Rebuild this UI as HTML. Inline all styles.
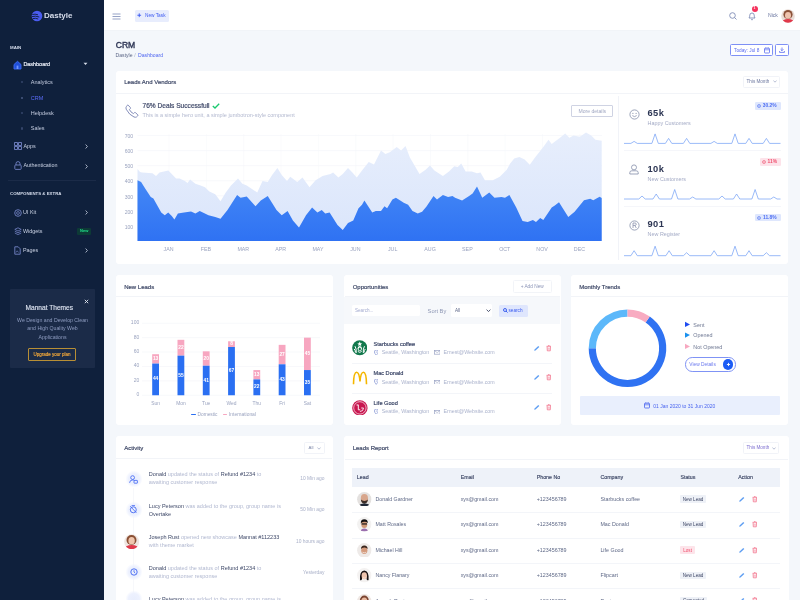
<!DOCTYPE html><html><head><meta charset="utf-8"><style>
html,body{margin:0;padding:0;width:800px;height:600px;overflow:hidden;background:#f4f7fb;font-family:"Liberation Sans", sans-serif;}
.t{position:absolute;white-space:nowrap;}
.r{position:absolute;}
#wrap{position:absolute;left:0;top:0;width:800px;height:600px;overflow:hidden;will-change:transform;}
</style></head><body><div id="wrap">
<div class="r" style="left:0.00px;top:0.00px;width:104.00px;height:600.00px;background:#0f203c;border-radius:0px;"></div>
<svg class="r" style="left:31px;top:10px;" width="12" height="12" viewBox="0 0 12 12"><circle cx="6" cy="6" r="5.3" fill="#4a5cf0"/><path d="M1.2 4.6 Q4 3.6 7 4.8 M1 6.6 Q4.5 5.6 8.3 7 M1.8 8.6 Q4.5 7.8 7.2 9" stroke="#0e1d39" stroke-width="0.9" fill="none"/></svg>
<div class="t" style="left:44.00px;top:9.60px;width:600px;height:12.80px;line-height:12.80px;font-size:8.0px;color:#d8deec;font-weight:bold;text-align:left;">Dastyle</div>
<div class="t" style="left:10.00px;top:43.88px;width:600px;height:7.04px;line-height:7.04px;font-size:4.4px;color:#d5dcec;font-weight:bold;text-align:left;">MAIN</div>
<svg class="r" style="left:13px;top:60px;" width="9" height="10" viewBox="0 0 9 10"><path d="M1 4.5 L4.5 1.3 L8 4.5 V9 H1 Z" fill="#1f4fd8" stroke="#3d6cf5" stroke-width="0.9"/><rect x="3.6" y="5.6" width="1.8" height="3.4" fill="#6f95ff"/></svg>
<div class="t" style="left:23.40px;top:60.34px;width:600px;height:8.72px;line-height:8.72px;font-size:5.45px;color:#e9edf7;font-weight:normal;text-align:left;-webkit-text-stroke:0.2px #e9edf7;">Dashboard</div>
<svg class="r" style="left:83px;top:62px;" width="5" height="4" viewBox="0 0 5 4"><path d="M0.5 0.8 L2.5 3 L4.5 0.8 Z" fill="#d8deeb"/></svg>
<div class="r" style="left:21.00px;top:81.30px;width:2.20px;height:2.20px;background:#34446a;border-radius:1.1px;"></div>
<div class="t" style="left:30.80px;top:78.30px;width:600px;height:8.80px;line-height:8.80px;font-size:5.5px;color:#c3cbdf;font-weight:normal;text-align:left;">Analytics</div>
<div class="r" style="left:21.00px;top:96.60px;width:2.20px;height:2.20px;background:#4a5a82;border-radius:1.1px;"></div>
<div class="t" style="left:30.80px;top:93.60px;width:600px;height:8.80px;line-height:8.80px;font-size:5.5px;color:#5a6cf8;font-weight:normal;text-align:left;">CRM</div>
<div class="r" style="left:21.00px;top:111.80px;width:2.20px;height:2.20px;background:#34446a;border-radius:1.1px;"></div>
<div class="t" style="left:30.80px;top:108.80px;width:600px;height:8.80px;line-height:8.80px;font-size:5.5px;color:#c3cbdf;font-weight:normal;text-align:left;">Helpdesk</div>
<div class="r" style="left:21.00px;top:127.40px;width:2.20px;height:2.20px;background:#34446a;border-radius:1.1px;"></div>
<div class="t" style="left:30.80px;top:124.40px;width:600px;height:8.80px;line-height:8.80px;font-size:5.5px;color:#c3cbdf;font-weight:normal;text-align:left;">Sales</div>
<svg class="r" style="left:13.5px;top:141.5px;" width="8" height="9" viewBox="0 0 8 9"><rect x="0.6" y="0.6" width="2.8" height="2.8" fill="none" stroke="#7f8fd6" stroke-width="0.8"/><rect x="4.6" y="0.6" width="2.8" height="2.8" fill="none" stroke="#7f8fd6" stroke-width="0.8"/><rect x="0.6" y="4.6" width="2.8" height="2.8" fill="none" stroke="#7f8fd6" stroke-width="0.8"/><rect x="4.6" y="4.6" width="2.8" height="2.8" fill="none" stroke="#7f8fd6" stroke-width="0.8"/></svg>
<div class="t" style="left:23.40px;top:141.98px;width:600px;height:8.64px;line-height:8.64px;font-size:5.4px;color:#c8d0e2;font-weight:normal;text-align:left;">Apps</div>
<svg class="r" style="left:84.5px;top:144px;" width="3" height="5" viewBox="0 0 3 5"><path d="M0.6 0.5 L2.4 2.5 L0.6 4.5" stroke="#c8d0e2" stroke-width="0.8" fill="none"/></svg>
<svg class="r" style="left:13.5px;top:161px;" width="8" height="9" viewBox="0 0 8 9"><path d="M2 4 V2.6 A2 2 0 0 1 6 2.6 V4" stroke="#7f8fd6" stroke-width="0.8" fill="none"/><rect x="0.8" y="4" width="6.4" height="4.4" rx="0.8" fill="none" stroke="#7f8fd6" stroke-width="0.8"/></svg>
<div class="t" style="left:23.40px;top:161.48px;width:600px;height:8.64px;line-height:8.64px;font-size:5.4px;color:#c8d0e2;font-weight:normal;text-align:left;">Authentication</div>
<svg class="r" style="left:84.5px;top:163.5px;" width="3" height="5" viewBox="0 0 3 5"><path d="M0.6 0.5 L2.4 2.5 L0.6 4.5" stroke="#c8d0e2" stroke-width="0.8" fill="none"/></svg>
<div class="r" style="left:8.00px;top:180.20px;width:88.00px;height:0.50px;background:#1b2b48;border-radius:0px;"></div>
<div class="t" style="left:10.00px;top:190.92px;width:600px;height:6.96px;line-height:6.96px;font-size:4.35px;color:#d5dcec;font-weight:bold;text-align:left;">COMPONENTS &amp; EXTRA</div>
<svg class="r" style="left:13.5px;top:208.5px;" width="8" height="8" viewBox="0 0 8 8"><circle cx="4" cy="4" r="3.3" fill="none" stroke="#7f8fd6" stroke-width="0.8"/><circle cx="4" cy="4" r="1.4" fill="none" stroke="#7f8fd6" stroke-width="0.7"/></svg>
<div class="t" style="left:23.00px;top:208.28px;width:600px;height:8.64px;line-height:8.64px;font-size:5.4px;color:#c8d0e2;font-weight:normal;text-align:left;">UI Kit</div>
<svg class="r" style="left:84.5px;top:210.3px;" width="3" height="5" viewBox="0 0 3 5"><path d="M0.6 0.5 L2.4 2.5 L0.6 4.5" stroke="#c8d0e2" stroke-width="0.8" fill="none"/></svg>
<svg class="r" style="left:13.5px;top:227px;" width="8" height="8" viewBox="0 0 8 8"><path d="M4 0.8 L7.2 2.4 L4 4 L0.8 2.4 Z M0.8 4.2 L4 5.8 L7.2 4.2 M0.8 6 L4 7.6 L7.2 6" stroke="#7f8fd6" stroke-width="0.7" fill="none"/></svg>
<div class="t" style="left:23.00px;top:226.88px;width:600px;height:8.64px;line-height:8.64px;font-size:5.4px;color:#c8d0e2;font-weight:normal;text-align:left;">Widgets</div>
<div class="r" style="left:77.40px;top:228.00px;width:13.60px;height:6.50px;background:#0d3a36;border-radius:1px;"></div>
<div class="t" style="left:-215.80px;top:228.00px;width:600px;height:6.40px;line-height:6.40px;font-size:4.0px;color:#1fe08a;font-weight:bold;text-align:center;">New</div>
<svg class="r" style="left:13.5px;top:245.5px;" width="7" height="9" viewBox="0 0 7 9"><path d="M0.8 0.8 H4.2 L6.2 2.8 V8.2 H0.8 Z" stroke="#7f8fd6" stroke-width="0.8" fill="none"/><path d="M2 6.5 L3.2 4.8 L4.6 6.5" stroke="#7f8fd6" stroke-width="0.6" fill="none"/></svg>
<div class="t" style="left:23.00px;top:245.68px;width:600px;height:8.64px;line-height:8.64px;font-size:5.4px;color:#c8d0e2;font-weight:normal;text-align:left;">Pages</div>
<svg class="r" style="left:84.5px;top:247.7px;" width="3" height="5" viewBox="0 0 3 5"><path d="M0.6 0.5 L2.4 2.5 L0.6 4.5" stroke="#c8d0e2" stroke-width="0.8" fill="none"/></svg>
<div class="r" style="left:10.00px;top:289.00px;width:85.00px;height:78.50px;background:#1b2b48;border-radius:1px;"></div>
<svg class="r" style="left:84px;top:298.8px;" width="5" height="5" viewBox="0 0 5 5"><path d="M0.8 0.8 L4.2 4.2 M4.2 0.8 L0.8 4.2" stroke="#e8ecf5" stroke-width="0.9"/></svg>
<div class="t" style="left:-250.70px;top:303.02px;width:600px;height:10.56px;line-height:10.56px;font-size:6.6px;color:#dfe5f2;font-weight:normal;text-align:center;-webkit-text-stroke:0.12px #dfe5f2;">Mannat Themes</div>
<div class="t" style="left:-247.50px;top:315.84px;width:600px;height:8.32px;line-height:8.32px;font-size:5.2px;color:#8e9cc0;font-weight:normal;text-align:center;">We Design and Develop Clean</div>
<div class="t" style="left:-247.50px;top:324.14px;width:600px;height:8.32px;line-height:8.32px;font-size:5.2px;color:#8e9cc0;font-weight:normal;text-align:center;">and High Quality Web</div>
<div class="t" style="left:-247.50px;top:332.54px;width:600px;height:8.32px;line-height:8.32px;font-size:5.2px;color:#8e9cc0;font-weight:normal;text-align:center;">Applications</div>
<div class="r" style="left:28.30px;top:347.50px;width:47.50px;height:13.00px;background:transparent;border:0.8px solid #b88f35;box-sizing:border-box;border-radius:1px;"></div>
<div class="t" style="left:-248.00px;top:350.60px;width:600px;height:7.20px;line-height:7.20px;font-size:4.5px;color:#f2a83a;font-weight:normal;text-align:center;-webkit-text-stroke:0.15px #f2a83a;">Upgrade your plan</div>
<div class="r" style="left:104.00px;top:0.00px;width:696.00px;height:30.60px;background:#ffffff;border-radius:0px;"></div>
<div class="r" style="left:104.00px;top:30.20px;width:696.00px;height:0.50px;background:#f1f4f8;border-radius:0px;"></div>
<svg class="r" style="left:112px;top:12.5px;" width="9" height="7" viewBox="0 0 9 7"><path d="M0.5 1 H8.5 M0.5 3.5 H8.5 M0.5 6 H8.5" stroke="#8a98c0" stroke-width="0.9"/></svg>
<div class="r" style="left:134.50px;top:9.50px;width:34.50px;height:12.00px;background:#e8edfd;border-radius:1.5px;"></div>
<svg class="r" style="left:137.2px;top:13.3px;" width="4.5" height="4.5" viewBox="0 0 4.5 4.5"><path d="M2.25 0.4 V4.1 M0.4 2.25 H4.1" stroke="#3556f0" stroke-width="0.9"/></svg>
<div class="t" style="left:145.00px;top:11.80px;width:600px;height:7.60px;line-height:7.60px;font-size:4.75px;color:#3f5cf2;font-weight:normal;text-align:left;">New Task</div>
<svg class="r" style="left:729px;top:11.5px;" width="8" height="8" viewBox="0 0 8 8"><circle cx="3.5" cy="3.5" r="2.8" fill="none" stroke="#7f8cb6" stroke-width="0.9"/><path d="M5.5 5.5 L7.5 7.5" stroke="#7f8cb6" stroke-width="0.9"/></svg>
<svg class="r" style="left:747.5px;top:10.5px;" width="8" height="10" viewBox="0 0 8 10"><path d="M1 7 Q1.8 6 1.8 4.2 A2.2 2.2 0 0 1 6.2 4.2 Q6.2 6 7 7 Z" fill="none" stroke="#7f8cb6" stroke-width="0.9"/><path d="M3 8.4 Q4 9.4 5 8.4" stroke="#7f8cb6" stroke-width="0.8" fill="none"/></svg>
<div class="r" style="left:751.50px;top:6.00px;width:6.00px;height:6.00px;background:#f5325c;border-radius:3px;"></div>
<div class="t" style="left:454.50px;top:6.20px;width:600px;height:5.60px;line-height:5.60px;font-size:3.5px;color:#ffffff;font-weight:bold;text-align:center;">1</div>
<div class="t" style="left:768.00px;top:11.42px;width:600px;height:8.16px;line-height:8.16px;font-size:5.1px;color:#6b77a0;font-weight:normal;text-align:left;">Nick</div>
<svg class="r" style="left:780.5px;top:9.3px;" width="14" height="14" viewBox="0 0 14 14"><defs><clipPath id="av"><circle cx="7" cy="7" r="6.8"/></clipPath></defs><g clip-path="url(#av)"><rect width="14" height="14" fill="#e9dcd6"/><circle cx="7" cy="5.6" r="4.6" fill="#8a5138"/><ellipse cx="7" cy="6.4" rx="3" ry="3.4" fill="#eec3ae"/><ellipse cx="7" cy="14.2" rx="6.6" ry="4.2" fill="#e0384a"/></g></svg>
<div class="t" style="left:115.80px;top:39.32px;width:600px;height:13.76px;line-height:13.76px;font-size:8.6px;color:#2f3756;font-weight:normal;text-align:left;-webkit-text-stroke:0.4px #2f3756;letter-spacing:-0.1px;">CRM</div>
<div class="t" style="left:115.60px;top:50.62px;width:600px;height:8.16px;line-height:8.16px;font-size:5.1px;color:#5b6686;font-weight:normal;text-align:left;">Dastyle</div>
<div class="t" style="left:134.20px;top:50.62px;width:600px;height:8.16px;line-height:8.16px;font-size:5.1px;color:#a6b0cc;font-weight:normal;text-align:left;">/</div>
<div class="t" style="left:138.10px;top:50.62px;width:600px;height:8.16px;line-height:8.16px;font-size:5.1px;color:#4d64f0;font-weight:normal;text-align:left;">Dashboard</div>
<div class="r" style="left:730.00px;top:44.20px;width:43.00px;height:12.30px;background:#ffffff;border:0.8px solid #7e90f5;box-sizing:border-box;border-radius:1.5px;"></div>
<div class="t" style="left:734.00px;top:46.60px;width:600px;height:7.60px;line-height:7.60px;font-size:4.75px;color:#5a6df0;font-weight:normal;text-align:left;">Today: Jul 8</div>
<svg class="r" style="left:763.5px;top:47px;" width="6" height="6.5" viewBox="0 0 6 6.5"><rect x="0.5" y="1.2" width="5" height="4.8" rx="0.6" fill="none" stroke="#5a6df0" stroke-width="0.8"/><path d="M0.5 2.8 H5.5 M1.8 0.3 V1.6 M4.2 0.3 V1.6" stroke="#5a6df0" stroke-width="0.7"/></svg>
<div class="r" style="left:775.00px;top:44.20px;width:13.80px;height:12.30px;background:#ffffff;border:0.8px solid #7e90f5;box-sizing:border-box;border-radius:1.5px;"></div>
<svg class="r" style="left:778.8px;top:47.2px;" width="6" height="6" viewBox="0 0 6 6"><path d="M3 0.5 V3.6 M1.6 2.3 L3 3.7 L4.4 2.3 M0.6 4 V5.4 H5.4 V4" stroke="#5a6df0" stroke-width="0.8" fill="none"/></svg>
<div class="r" style="left:115.50px;top:70.50px;width:672.80px;height:193.50px;background:#ffffff;border-radius:2px;box-shadow:0 0 0.6px #e6eaf2;"></div>
<div class="t" style="left:124.20px;top:77.50px;width:600px;height:9.60px;line-height:9.60px;font-size:6.0px;color:#3d4766;font-weight:normal;text-align:left;-webkit-text-stroke:0.18px #3d4766;">Leads And Vendors</div>
<div class="r" style="left:116.00px;top:92.50px;width:671.80px;height:0.50px;background:#f2f4f8;border-radius:0px;"></div>
<div class="r" style="left:743.00px;top:75.70px;width:36.70px;height:12.00px;background:#ffffff;border:0.6px solid #f1f3f8;box-sizing:border-box;border-radius:1.5px;"></div>
<div class="t" style="left:746.50px;top:78.02px;width:600px;height:7.36px;line-height:7.36px;font-size:4.6px;color:#6d78a0;font-weight:normal;text-align:left;">This Month</div>
<svg class="r" style="left:772.5px;top:80.3px;" width="4" height="3" viewBox="0 0 4 3"><path d="M0.4 0.5 L2 2.2 L3.6 0.5" stroke="#8a95b8" stroke-width="0.6" fill="none"/></svg>
<svg class="r" style="left:0;top:0" width="800" height="600" viewBox="0 0 800 600">
<defs><linearGradient id="gd" x1="0" y1="0" x2="0" y2="1"><stop offset="0" stop-color="#4488f6"/><stop offset="1" stop-color="#2f72f3"/></linearGradient>
<linearGradient id="gl" x1="0" y1="0" x2="0" y2="1"><stop offset="0" stop-color="#e7eefc"/><stop offset="1" stop-color="#dae5fb"/></linearGradient></defs>
<line x1="137.5" y1="225.93" x2="602" y2="225.93" stroke="#f1f3f8" stroke-width="0.5"/><line x1="137.5" y1="210.86" x2="602" y2="210.86" stroke="#f1f3f8" stroke-width="0.5"/><line x1="137.5" y1="195.79" x2="602" y2="195.79" stroke="#f1f3f8" stroke-width="0.5"/><line x1="137.5" y1="180.72" x2="602" y2="180.72" stroke="#f1f3f8" stroke-width="0.5"/><line x1="137.5" y1="165.65" x2="602" y2="165.65" stroke="#f1f3f8" stroke-width="0.5"/><line x1="137.5" y1="150.58" x2="602" y2="150.58" stroke="#f1f3f8" stroke-width="0.5"/><line x1="137.5" y1="135.51" x2="602" y2="135.51" stroke="#f1f3f8" stroke-width="0.5"/><line x1="169.00" y1="134" x2="169.00" y2="241" stroke="#f4f6fa" stroke-width="0.5"/><line x1="206.35" y1="134" x2="206.35" y2="241" stroke="#f4f6fa" stroke-width="0.5"/><line x1="243.70" y1="134" x2="243.70" y2="241" stroke="#f4f6fa" stroke-width="0.5"/><line x1="281.05" y1="134" x2="281.05" y2="241" stroke="#f4f6fa" stroke-width="0.5"/><line x1="318.40" y1="134" x2="318.40" y2="241" stroke="#f4f6fa" stroke-width="0.5"/><line x1="355.75" y1="134" x2="355.75" y2="241" stroke="#f4f6fa" stroke-width="0.5"/><line x1="393.10" y1="134" x2="393.10" y2="241" stroke="#f4f6fa" stroke-width="0.5"/><line x1="430.45" y1="134" x2="430.45" y2="241" stroke="#f4f6fa" stroke-width="0.5"/><line x1="467.80" y1="134" x2="467.80" y2="241" stroke="#f4f6fa" stroke-width="0.5"/><line x1="505.15" y1="134" x2="505.15" y2="241" stroke="#f4f6fa" stroke-width="0.5"/><line x1="542.50" y1="134" x2="542.50" y2="241" stroke="#f4f6fa" stroke-width="0.5"/><line x1="579.85" y1="134" x2="579.85" y2="241" stroke="#f4f6fa" stroke-width="0.5"/>
<path d="M137.50 241.0 L137.50 168.90 L140.00 172.00 L142.00 172.40 L152.50 173.30 L156.00 175.90 L159.50 172.40 L163.90 171.50 L168.30 170.60 L171.75 174.10 L176.10 178.50 L179.60 178.50 L184.90 181.10 L187.50 182.90 L190.10 179.40 L195.40 183.75 L200.60 185.50 L205.00 187.25 L209.40 191.60 L215.25 194.25 L220.50 201.25 L225.75 192.50 L231.00 185.50 L238.00 178.50 L242.40 183.75 L246.75 185.50 L252.00 189.00 L257.25 192.50 L262.50 181.10 L267.75 182.00 L272.10 175.00 L277.40 168.00 L281.75 175.00 L287.00 181.10 L290.25 176.75 L297.25 182.00 L302.50 177.60 L309.50 187.25 L315.60 180.25 L322.60 175.90 L330.50 174.10 L333.10 172.40 L338.40 177.60 L342.75 174.10 L348.00 168.00 L352.40 172.40 L356.75 177.60 L362.00 170.60 L368.75 161.90 L374.00 164.50 L381.00 150.50 L385.40 154.00 L389.75 152.25 L396.75 147.00 L401.10 150.50 L405.50 146.10 L409.90 157.50 L419.50 174.10 L425.60 169.75 L430.00 165.40 L434.40 170.60 L442.90 175.90 L449.00 171.50 L454.25 166.25 L457.75 167.10 L461.25 163.60 L465.60 171.50 L471.75 171.50 L477.00 173.25 L480.50 172.40 L484.90 180.25 L492.75 180.25 L499.75 176.75 L506.75 169.75 L510.00 163.75 L514.20 158.50 L519.40 157.10 L524.60 159.60 L529.80 164.80 L535.00 157.50 L543.30 147.10 L548.50 139.80 L551.70 144.00 L560.00 137.70 L565.20 133.50 L569.40 137.70 L573.50 135.60 L579.80 136.70 L586.00 132.50 L591.25 135.60 L595.40 139.80 L601.70 140.80 L601.70 241.0 Z" fill="url(#gl)"/>
<path d="M137.50 241.0 L137.50 180.25 L141.10 182.00 L145.50 189.00 L150.75 196.90 L153.40 198.60 L156.90 204.75 L161.25 212.60 L164.75 215.25 L168.25 212.60 L171.75 216.10 L174.40 219.60 L177.90 213.50 L184.00 212.60 L191.00 211.40 L195.40 213.50 L199.75 210.90 L208.50 215.25 L215.25 217.00 L220.50 218.75 L227.50 210.00 L237.10 195.10 L240.60 197.75 L246.75 196.40 L255.50 206.20 L260.75 200.40 L267.75 196.00 L276.50 210.00 L281.75 215.25 L287.60 210.90 L292.90 220.50 L299.00 227.50 L306.00 215.25 L312.10 207.40 L317.40 212.60 L321.75 210.00 L325.25 213.50 L329.60 212.60 L337.50 224.90 L342.75 230.10 L348.00 223.10 L353.25 220.50 L358.50 208.25 L362.00 204.75 L364.40 200.40 L372.25 212.60 L375.75 210.90 L381.00 210.90 L384.50 206.20 L387.10 208.25 L392.40 199.50 L395.90 197.75 L400.25 200.40 L403.75 202.65 L408.10 204.75 L412.50 210.90 L417.75 213.50 L422.10 211.75 L426.50 206.50 L433.50 196.00 L437.00 199.50 L442.90 195.10 L448.10 196.90 L452.50 196.00 L455.10 197.75 L462.10 200.40 L469.10 196.00 L472.60 193.40 L477.00 186.40 L482.25 197.75 L489.25 192.50 L494.50 197.75 L501.50 196.90 L505.00 197.75 L509.40 195.10 L516.25 207.50 L522.50 221.00 L527.70 222.10 L532.90 220.00 L536.00 222.10 L540.20 217.90 L543.30 220.00 L551.70 207.50 L554.80 205.40 L559.00 202.30 L568.30 216.90 L574.60 211.70 L584.00 200.20 L590.20 198.75 L593.30 200.20 L599.60 196.70 L601.70 198.10 L601.70 241.0 Z" fill="url(#gd)"/>
</svg>
<div class="t" style="left:-466.80px;top:132.22px;width:600px;height:8.16px;line-height:8.16px;font-size:5.1px;color:#9aa3bf;font-weight:normal;text-align:right;">700</div>
<div class="t" style="left:-466.80px;top:147.29px;width:600px;height:8.16px;line-height:8.16px;font-size:5.1px;color:#9aa3bf;font-weight:normal;text-align:right;">600</div>
<div class="t" style="left:-466.80px;top:162.36px;width:600px;height:8.16px;line-height:8.16px;font-size:5.1px;color:#9aa3bf;font-weight:normal;text-align:right;">500</div>
<div class="t" style="left:-466.80px;top:177.43px;width:600px;height:8.16px;line-height:8.16px;font-size:5.1px;color:#9aa3bf;font-weight:normal;text-align:right;">400</div>
<div class="t" style="left:-466.80px;top:192.50px;width:600px;height:8.16px;line-height:8.16px;font-size:5.1px;color:#9aa3bf;font-weight:normal;text-align:right;">300</div>
<div class="t" style="left:-466.80px;top:207.57px;width:600px;height:8.16px;line-height:8.16px;font-size:5.1px;color:#9aa3bf;font-weight:normal;text-align:right;">200</div>
<div class="t" style="left:-466.80px;top:222.64px;width:600px;height:8.16px;line-height:8.16px;font-size:5.1px;color:#9aa3bf;font-weight:normal;text-align:right;">100</div>
<div class="t" style="left:-131.40px;top:245.16px;width:600px;height:8.48px;line-height:8.48px;font-size:5.3px;color:#9aa3bf;font-weight:normal;text-align:center;">JAN</div>
<div class="t" style="left:-94.05px;top:245.16px;width:600px;height:8.48px;line-height:8.48px;font-size:5.3px;color:#9aa3bf;font-weight:normal;text-align:center;">FEB</div>
<div class="t" style="left:-56.70px;top:245.16px;width:600px;height:8.48px;line-height:8.48px;font-size:5.3px;color:#9aa3bf;font-weight:normal;text-align:center;">MAR</div>
<div class="t" style="left:-19.35px;top:245.16px;width:600px;height:8.48px;line-height:8.48px;font-size:5.3px;color:#9aa3bf;font-weight:normal;text-align:center;">APR</div>
<div class="t" style="left:18.00px;top:245.16px;width:600px;height:8.48px;line-height:8.48px;font-size:5.3px;color:#9aa3bf;font-weight:normal;text-align:center;">MAY</div>
<div class="t" style="left:55.35px;top:245.16px;width:600px;height:8.48px;line-height:8.48px;font-size:5.3px;color:#9aa3bf;font-weight:normal;text-align:center;">JUN</div>
<div class="t" style="left:92.70px;top:245.16px;width:600px;height:8.48px;line-height:8.48px;font-size:5.3px;color:#9aa3bf;font-weight:normal;text-align:center;">JUL</div>
<div class="t" style="left:130.05px;top:245.16px;width:600px;height:8.48px;line-height:8.48px;font-size:5.3px;color:#9aa3bf;font-weight:normal;text-align:center;">AUG</div>
<div class="t" style="left:167.40px;top:245.16px;width:600px;height:8.48px;line-height:8.48px;font-size:5.3px;color:#9aa3bf;font-weight:normal;text-align:center;">SEP</div>
<div class="t" style="left:204.75px;top:245.16px;width:600px;height:8.48px;line-height:8.48px;font-size:5.3px;color:#9aa3bf;font-weight:normal;text-align:center;">OCT</div>
<div class="t" style="left:242.10px;top:245.16px;width:600px;height:8.48px;line-height:8.48px;font-size:5.3px;color:#9aa3bf;font-weight:normal;text-align:center;">NOV</div>
<div class="t" style="left:279.45px;top:245.16px;width:600px;height:8.48px;line-height:8.48px;font-size:5.3px;color:#9aa3bf;font-weight:normal;text-align:center;">DEC</div>
<svg class="r" style="left:124.5px;top:103.5px;" width="14" height="14" viewBox="0 0 14 14"><path d="M3.2 1.2 L5.4 3.6 Q5.8 4.2 5.2 4.8 L4.4 5.6 Q5.6 8.2 8.4 9.6 L9.2 8.8 Q9.8 8.2 10.4 8.6 L12.8 10.8 Q13.2 11.4 12.6 12 L11.6 12.9 Q10.6 13.6 9 13 Q4.2 11 1.2 5.2 Q0.6 3.6 1.4 2.6 L2.2 1.4 Q2.7 0.8 3.2 1.2 Z" fill="none" stroke="#7d87b5" stroke-width="0.95"/></svg>
<div class="t" style="left:142.50px;top:101.12px;width:600px;height:10.56px;line-height:10.56px;font-size:6.6px;color:#404a6a;font-weight:normal;text-align:left;-webkit-text-stroke:0.2px #404a6a;">76% Deals Successfull</div>
<svg class="r" style="left:212px;top:102.5px;" width="8" height="6" viewBox="0 0 8 6"><path d="M0.8 3 L3 5 L7.2 0.8" stroke="#19c96e" stroke-width="1.3" fill="none"/></svg>
<div class="t" style="left:142.50px;top:110.60px;width:600px;height:8.80px;line-height:8.80px;font-size:5.5px;color:#b2b8cf;font-weight:normal;text-align:left;">This is a simple hero unit, a simple jumbotron-style component</div>
<div class="r" style="left:571.20px;top:104.70px;width:42.30px;height:12.80px;background:#ffffff;border:0.7px solid #cfd3e3;box-sizing:border-box;border-radius:1px;"></div>
<div class="t" style="left:292.30px;top:107.02px;width:600px;height:8.16px;line-height:8.16px;font-size:5.1px;color:#a0a7c2;font-weight:normal;text-align:center;">More details</div>
<div class="r" style="left:618.00px;top:96.00px;width:0.50px;height:164.00px;background:#f1f3f8;border-radius:0px;"></div>
<div class="t" style="left:647.60px;top:105.56px;width:600px;height:14.88px;line-height:14.88px;font-size:9.3px;color:#2c3553;font-weight:bold;text-align:left;letter-spacing:0.35px;">65k</div>
<div class="t" style="left:647.60px;top:118.58px;width:600px;height:8.64px;line-height:8.64px;font-size:5.4px;color:#a4abc6;font-weight:normal;text-align:left;">Happy Customers</div>
<div class="r" style="left:755.00px;top:102.20px;width:25.50px;height:7.50px;background:#dfe7fd;border-radius:1.2px;"></div>
<div class="t" style="left:469.75px;top:101.98px;width:600px;height:7.84px;line-height:7.84px;font-size:4.9px;color:#4f6ff2;font-weight:bold;text-align:center;">30.2%</div>
<svg class="r" style="left:756.8px;top:103.9px;" width="4" height="4" viewBox="0 0 4 4"><circle cx="2" cy="2" r="1.5" fill="none" stroke="#4f6ff2" stroke-width="0.6"/><path d="M1.2 2 H2.8" stroke="#4f6ff2" stroke-width="0.5"/></svg>
<div class="r" style="left:624.00px;top:150.00px;width:157.00px;height:0.50px;background:#f5f6fa;border-radius:0px;"></div>
<div class="t" style="left:647.60px;top:161.56px;width:600px;height:14.88px;line-height:14.88px;font-size:9.3px;color:#2c3553;font-weight:bold;text-align:left;letter-spacing:0.35px;">10k</div>
<div class="t" style="left:647.60px;top:174.58px;width:600px;height:8.64px;line-height:8.64px;font-size:5.4px;color:#a4abc6;font-weight:normal;text-align:left;">New Customers</div>
<div class="r" style="left:760.00px;top:158.20px;width:20.50px;height:7.50px;background:#fde3ea;border-radius:1.2px;"></div>
<div class="t" style="left:472.25px;top:157.98px;width:600px;height:7.84px;line-height:7.84px;font-size:4.9px;color:#f0506e;font-weight:bold;text-align:center;">11%</div>
<svg class="r" style="left:761.8px;top:159.9px;" width="4" height="4" viewBox="0 0 4 4"><circle cx="2" cy="2" r="1.5" fill="none" stroke="#f0506e" stroke-width="0.6"/><path d="M1.2 2 H2.8" stroke="#f0506e" stroke-width="0.5"/></svg>
<div class="r" style="left:624.00px;top:206.00px;width:157.00px;height:0.50px;background:#f5f6fa;border-radius:0px;"></div>
<div class="t" style="left:647.60px;top:217.16px;width:600px;height:14.88px;line-height:14.88px;font-size:9.3px;color:#2c3553;font-weight:bold;text-align:left;letter-spacing:0.35px;">901</div>
<div class="t" style="left:647.60px;top:230.18px;width:600px;height:8.64px;line-height:8.64px;font-size:5.4px;color:#a4abc6;font-weight:normal;text-align:left;">New Register</div>
<div class="r" style="left:755.00px;top:213.80px;width:25.50px;height:7.50px;background:#dfe7fd;border-radius:1.2px;"></div>
<div class="t" style="left:469.75px;top:213.58px;width:600px;height:7.84px;line-height:7.84px;font-size:4.9px;color:#4f6ff2;font-weight:bold;text-align:center;">11.8%</div>
<svg class="r" style="left:756.8px;top:215.5px;" width="4" height="4" viewBox="0 0 4 4"><circle cx="2" cy="2" r="1.5" fill="none" stroke="#4f6ff2" stroke-width="0.6"/><path d="M1.2 2 H2.8" stroke="#4f6ff2" stroke-width="0.5"/></svg>
<svg class="r" style="left:0;top:0" width="800" height="600" viewBox="0 0 800 600"><path d="M624 143.4 L630.9 143.4 L634.1 141.4 L637.3 143.4 L651.9 143.4 L655.1 133.9 L658.3 143.4 L665.4 143.4 L668.6 138.4 L671.8 143.4 L683.4 143.4 L686.6 138.4 L689.8 143.4 L710.9 143.4 L714.1 141.4 L717.3 143.4 L731.8 143.4 L735.0 133.9 L738.2 143.4 L745.8 143.4 L749.0 138.4 L752.2 143.4 L763.2 143.4 L766.4 138.4 L769.6 143.4 L780.5 143.4" fill="none" stroke="#78a3f5" stroke-width="0.75" stroke-linejoin="round"/><path d="M624 199 L638.8 199 L642.0 196.0 L645.2 199 L653.0 199 L656.2 194.0 L659.4 199 L671.5 199 L674.7 189.5 L677.9 199 L689.5 199 L692.7 197.0 L695.9 199 L718.8 199 L722.0 196.0 L725.2 199 L733.4 199 L736.6 194.0 L739.8 199 L751.9 199 L755.1 189.5 L758.3 199 L770.6 199 L773.8 197.0 L777.0 199 L780.5 199" fill="none" stroke="#78a3f5" stroke-width="0.75" stroke-linejoin="round"/><path d="M624 255.7 L630.9 255.7 L634.1 250.7 L637.3 255.7 L651.9 255.7 L655.1 246.2 L658.3 255.7 L665.9 255.7 L669.1 250.7 L672.3 255.7 L683.4 255.7 L686.6 252.7 L689.8 255.7 L710.9 255.7 L714.1 250.7 L717.3 255.7 L731.8 255.7 L735.0 246.2 L738.2 255.7 L745.8 255.7 L749.0 250.7 L752.2 255.7 L763.2 255.7 L766.4 252.7 L769.6 255.7 L780.5 255.7" fill="none" stroke="#78a3f5" stroke-width="0.75" stroke-linejoin="round"/></svg>
<svg class="r" style="left:628.5px;top:108.5px;" width="11" height="11" viewBox="0 0 11 11"><circle cx="5.5" cy="5.5" r="4.6" fill="none" stroke="#8a93ad" stroke-width="0.85"/><circle cx="3.9" cy="4.4" r="0.55" fill="#8a93ad"/><circle cx="7.1" cy="4.4" r="0.55" fill="#8a93ad"/><path d="M3.3 6.6 Q5.5 8.6 7.7 6.6" stroke="#8a93ad" stroke-width="0.8" fill="none"/></svg>
<svg class="r" style="left:629px;top:164px;" width="10" height="11" viewBox="0 0 10 11"><circle cx="5" cy="3.4" r="2.5" fill="none" stroke="#8a93ad" stroke-width="0.85"/><path d="M0.8 10 V8.6 Q0.8 6.8 2.8 6.8 H7.2 Q9.2 6.8 9.2 8.6 V10 Z" fill="none" stroke="#8a93ad" stroke-width="0.85"/></svg>
<svg class="r" style="left:628.5px;top:220px;" width="11" height="11" viewBox="0 0 11 11"><circle cx="5.5" cy="5.5" r="4.6" fill="none" stroke="#8a93ad" stroke-width="0.85"/><path d="M4 8 V3 H6 Q7.3 3 7.3 4.2 Q7.3 5.4 6 5.4 H4 M5.8 5.4 L7.3 8" stroke="#8a93ad" stroke-width="0.8" fill="none"/></svg>
<div class="r" style="left:115.50px;top:275.00px;width:217.00px;height:149.50px;background:#ffffff;border-radius:2px;box-shadow:0 0 0.6px #e6eaf2;"></div>
<div class="t" style="left:124.20px;top:282.70px;width:600px;height:9.60px;line-height:9.60px;font-size:6.0px;color:#3d4766;font-weight:normal;text-align:left;-webkit-text-stroke:0.18px #3d4766;">New Leads</div>
<div class="r" style="left:116.00px;top:296.30px;width:216.00px;height:0.50px;background:#f2f4f8;border-radius:0px;"></div>
<svg class="r" style="left:0;top:0" width="800" height="600" viewBox="0 0 800 600"><line x1="142" y1="395.25" x2="320" y2="395.25" stroke="#eef1f6" stroke-width="0.5"/><line x1="142" y1="380.85" x2="320" y2="380.85" stroke="#eef1f6" stroke-width="0.5"/><line x1="142" y1="366.45" x2="320" y2="366.45" stroke="#eef1f6" stroke-width="0.5"/><line x1="142" y1="352.05" x2="320" y2="352.05" stroke="#eef1f6" stroke-width="0.5"/><line x1="142" y1="337.65" x2="320" y2="337.65" stroke="#eef1f6" stroke-width="0.5"/><line x1="142" y1="323.25" x2="320" y2="323.25" stroke="#eef1f6" stroke-width="0.5"/><rect x="152.20" y="354.21" width="6.8" height="9.36" fill="#f7a6c0"/><rect x="152.20" y="363.57" width="6.8" height="31.68" fill="#2a6ff2"/><rect x="177.50" y="339.81" width="6.8" height="15.84" fill="#f7a6c0"/><rect x="177.50" y="355.65" width="6.8" height="39.60" fill="#2a6ff2"/><rect x="202.80" y="351.33" width="6.8" height="14.40" fill="#f7a6c0"/><rect x="202.80" y="365.73" width="6.8" height="29.52" fill="#2a6ff2"/><rect x="228.10" y="341.25" width="6.8" height="5.76" fill="#f7a6c0"/><rect x="228.10" y="347.01" width="6.8" height="48.24" fill="#2a6ff2"/><rect x="253.40" y="370.05" width="6.8" height="9.36" fill="#f7a6c0"/><rect x="253.40" y="379.41" width="6.8" height="15.84" fill="#2a6ff2"/><rect x="278.70" y="344.85" width="6.8" height="19.44" fill="#f7a6c0"/><rect x="278.70" y="364.29" width="6.8" height="30.96" fill="#2a6ff2"/><rect x="304.00" y="337.65" width="6.8" height="32.40" fill="#f7a6c0"/><rect x="304.00" y="370.05" width="6.8" height="25.20" fill="#2a6ff2"/></svg>
<div class="t" style="left:-144.40px;top:375.49px;width:600px;height:7.84px;line-height:7.84px;font-size:4.9px;color:#ffffff;font-weight:bold;text-align:center;">44</div>
<div class="t" style="left:-144.40px;top:354.97px;width:600px;height:7.84px;line-height:7.84px;font-size:4.9px;color:#ffffff;font-weight:bold;text-align:center;">13</div>
<div class="t" style="left:-144.40px;top:399.98px;width:600px;height:7.84px;line-height:7.84px;font-size:4.9px;color:#9aa3bf;font-weight:normal;text-align:center;">Sun</div>
<div class="t" style="left:-119.10px;top:371.53px;width:600px;height:7.84px;line-height:7.84px;font-size:4.9px;color:#ffffff;font-weight:bold;text-align:center;">55</div>
<div class="t" style="left:-119.10px;top:343.81px;width:600px;height:7.84px;line-height:7.84px;font-size:4.9px;color:#ffffff;font-weight:bold;text-align:center;">22</div>
<div class="t" style="left:-119.10px;top:399.98px;width:600px;height:7.84px;line-height:7.84px;font-size:4.9px;color:#9aa3bf;font-weight:normal;text-align:center;">Mon</div>
<div class="t" style="left:-93.80px;top:376.57px;width:600px;height:7.84px;line-height:7.84px;font-size:4.9px;color:#ffffff;font-weight:bold;text-align:center;">41</div>
<div class="t" style="left:-93.80px;top:354.61px;width:600px;height:7.84px;line-height:7.84px;font-size:4.9px;color:#ffffff;font-weight:bold;text-align:center;">20</div>
<div class="t" style="left:-93.80px;top:399.98px;width:600px;height:7.84px;line-height:7.84px;font-size:4.9px;color:#9aa3bf;font-weight:normal;text-align:center;">Tue</div>
<div class="t" style="left:-68.50px;top:367.21px;width:600px;height:7.84px;line-height:7.84px;font-size:4.9px;color:#ffffff;font-weight:bold;text-align:center;">67</div>
<div class="t" style="left:-68.50px;top:340.21px;width:600px;height:7.84px;line-height:7.84px;font-size:4.9px;color:#ffffff;font-weight:bold;text-align:center;">8</div>
<div class="t" style="left:-68.50px;top:399.98px;width:600px;height:7.84px;line-height:7.84px;font-size:4.9px;color:#9aa3bf;font-weight:normal;text-align:center;">Wed</div>
<div class="t" style="left:-43.20px;top:383.41px;width:600px;height:7.84px;line-height:7.84px;font-size:4.9px;color:#ffffff;font-weight:bold;text-align:center;">22</div>
<div class="t" style="left:-43.20px;top:370.81px;width:600px;height:7.84px;line-height:7.84px;font-size:4.9px;color:#ffffff;font-weight:bold;text-align:center;">13</div>
<div class="t" style="left:-43.20px;top:399.98px;width:600px;height:7.84px;line-height:7.84px;font-size:4.9px;color:#9aa3bf;font-weight:normal;text-align:center;">Thu</div>
<div class="t" style="left:-17.90px;top:375.85px;width:600px;height:7.84px;line-height:7.84px;font-size:4.9px;color:#ffffff;font-weight:bold;text-align:center;">43</div>
<div class="t" style="left:-17.90px;top:350.65px;width:600px;height:7.84px;line-height:7.84px;font-size:4.9px;color:#ffffff;font-weight:bold;text-align:center;">27</div>
<div class="t" style="left:-17.90px;top:399.98px;width:600px;height:7.84px;line-height:7.84px;font-size:4.9px;color:#9aa3bf;font-weight:normal;text-align:center;">Fri</div>
<div class="t" style="left:7.40px;top:378.73px;width:600px;height:7.84px;line-height:7.84px;font-size:4.9px;color:#ffffff;font-weight:bold;text-align:center;">35</div>
<div class="t" style="left:7.40px;top:349.93px;width:600px;height:7.84px;line-height:7.84px;font-size:4.9px;color:#ffffff;font-weight:bold;text-align:center;">45</div>
<div class="t" style="left:7.40px;top:399.98px;width:600px;height:7.84px;line-height:7.84px;font-size:4.9px;color:#9aa3bf;font-weight:normal;text-align:center;">Sat</div>
<div class="t" style="left:-460.80px;top:318.10px;width:600px;height:8.00px;line-height:8.00px;font-size:5.0px;color:#9aa3bf;font-weight:normal;text-align:right;">100</div>
<div class="t" style="left:-460.80px;top:332.54px;width:600px;height:8.00px;line-height:8.00px;font-size:5.0px;color:#9aa3bf;font-weight:normal;text-align:right;">80</div>
<div class="t" style="left:-460.80px;top:346.98px;width:600px;height:8.00px;line-height:8.00px;font-size:5.0px;color:#9aa3bf;font-weight:normal;text-align:right;">60</div>
<div class="t" style="left:-460.80px;top:361.42px;width:600px;height:8.00px;line-height:8.00px;font-size:5.0px;color:#9aa3bf;font-weight:normal;text-align:right;">40</div>
<div class="t" style="left:-460.80px;top:375.86px;width:600px;height:8.00px;line-height:8.00px;font-size:5.0px;color:#9aa3bf;font-weight:normal;text-align:right;">20</div>
<div class="t" style="left:-460.80px;top:390.30px;width:600px;height:8.00px;line-height:8.00px;font-size:5.0px;color:#9aa3bf;font-weight:normal;text-align:right;">0</div>
<div class="r" style="left:191.00px;top:413.60px;width:4.70px;height:1.80px;background:#2a6ff2;border-radius:0.8px;"></div>
<div class="t" style="left:197.50px;top:410.66px;width:600px;height:7.68px;line-height:7.68px;font-size:4.8px;color:#9aa3bf;font-weight:normal;text-align:left;">Domestic</div>
<div class="r" style="left:222.50px;top:413.60px;width:4.70px;height:1.80px;background:#f7a6c0;border-radius:0.8px;"></div>
<div class="t" style="left:229.00px;top:410.58px;width:600px;height:7.84px;line-height:7.84px;font-size:4.9px;color:#9aa3bf;font-weight:normal;text-align:left;">International</div>
<div class="r" style="left:344.00px;top:275.00px;width:216.50px;height:149.50px;background:#ffffff;border-radius:2px;box-shadow:0 0 0.6px #e6eaf2;"></div>
<div class="t" style="left:352.70px;top:282.90px;width:600px;height:9.60px;line-height:9.60px;font-size:6.0px;color:#3d4766;font-weight:normal;text-align:left;-webkit-text-stroke:0.18px #3d4766;">Opportunities</div>
<div class="r" style="left:344.50px;top:296.30px;width:215.50px;height:0.50px;background:#f2f4f8;border-radius:0px;"></div>
<div class="r" style="left:512.70px;top:280.20px;width:39.00px;height:12.80px;background:#ffffff;border:0.6px solid #f2f4f8;box-sizing:border-box;border-radius:1.5px;"></div>
<div class="t" style="left:232.20px;top:282.80px;width:600px;height:7.60px;line-height:7.60px;font-size:4.75px;color:#8d96b8;font-weight:normal;text-align:center;">+ Add New</div>
<div class="r" style="left:344.00px;top:296.60px;width:216.00px;height:27.20px;background:#f6f8fb;border-radius:0px;"></div>
<div class="r" style="left:352.00px;top:304.60px;width:68.00px;height:11.70px;background:#ffffff;border-radius:1.5px;"></div>
<div class="t" style="left:355.00px;top:306.82px;width:600px;height:7.36px;line-height:7.36px;font-size:4.6px;color:#a3abd0;font-weight:normal;text-align:left;">Search...</div>
<div class="t" style="left:427.60px;top:307.24px;width:600px;height:9.12px;line-height:9.12px;font-size:5.7px;color:#8f98b5;font-weight:normal;text-align:left;">Sort By</div>
<div class="r" style="left:451.20px;top:304.20px;width:41.30px;height:12.80px;background:#ffffff;border-radius:1.5px;"></div>
<div class="t" style="left:455.00px;top:306.92px;width:600px;height:7.36px;line-height:7.36px;font-size:4.6px;color:#5c6687;font-weight:normal;text-align:left;">All</div>
<svg class="r" style="left:486px;top:309px;" width="5" height="3.5" viewBox="0 0 5 3.5"><path d="M0.6 0.6 L2.5 2.6 L4.4 0.6" stroke="#3e4766" stroke-width="0.9" fill="none"/></svg>
<div class="r" style="left:499.20px;top:305.00px;width:28.50px;height:12.00px;background:#dfe6fd;border-radius:1.5px;"></div>
<svg class="r" style="left:502.5px;top:308px;" width="5" height="5" viewBox="0 0 5 5"><circle cx="2" cy="2" r="1.5" fill="none" stroke="#2f55ee" stroke-width="0.9"/><path d="M3.1 3.1 L4.5 4.5" stroke="#2f55ee" stroke-width="1"/></svg>
<div class="t" style="left:508.50px;top:307.24px;width:600px;height:7.52px;line-height:7.52px;font-size:4.7px;color:#3a5bf0;font-weight:normal;text-align:left;">search</div>
<div class="t" style="left:373.50px;top:339.62px;width:600px;height:8.96px;line-height:8.96px;font-size:5.6px;color:#3a4566;font-weight:normal;text-align:left;-webkit-text-stroke:0.18px #3a4566;">Starbucks coffee</div>
<svg class="r" style="left:373.8px;top:349.7px;" width="4.5" height="5.6" viewBox="0 0 4.5 5.6"><path d="M2.25 5.4 Q0.3 3 0.3 2 A1.95 1.95 0 0 1 4.2 2 Q4.2 3 2.25 5.4 Z" fill="none" stroke="#8b9ad6" stroke-width="0.75"/><circle cx="2.25" cy="2" r="0.6" fill="#8b9ad6"/></svg>
<div class="t" style="left:381.70px;top:348.22px;width:600px;height:8.56px;line-height:8.56px;font-size:5.35px;color:#aab2cc;font-weight:normal;text-align:left;">Seattle, Washington</div>
<svg class="r" style="left:434px;top:350.3px;" width="6.4" height="4.6" viewBox="0 0 6.4 4.6"><rect x="0.4" y="0.4" width="5.6" height="3.8" fill="none" stroke="#9aa3c4" stroke-width="0.7"/><path d="M0.4 0.6 L3.2 2.6 L6 0.6" stroke="#9aa3c4" stroke-width="0.6" fill="none"/></svg>
<div class="t" style="left:443.50px;top:348.26px;width:600px;height:8.48px;line-height:8.48px;font-size:5.3px;color:#aab2cc;font-weight:normal;text-align:left;">Ernest@Website.com</div>
<svg class="r" style="left:532.5px;top:344.5px;" width="7.5" height="7" viewBox="0 0 7.5 7"><path d="M1.2 5.8 L1.5 4.6 L5.3 1 L6.3 2 L2.5 5.6 Z" fill="#5d9df2"/></svg>
<svg class="r" style="left:545.6px;top:344.6px;" width="5.6" height="7" viewBox="0 0 5.6 7"><path d="M0.6 1.3 H5 M2.1 0.4 H3.5 M1.1 1.5 L1.3 5.8 H4.3 L4.5 1.5" stroke="#f2728c" stroke-width="0.8" fill="none"/><path d="M2.3 2.6 V4.8 M3.3 2.6 V4.8" stroke="#f2728c" stroke-width="0.45"/></svg>
<div class="r" style="left:351.50px;top:363.00px;width:200.00px;height:0.50px;background:#f3f5f9;border-radius:0px;"></div>
<div class="t" style="left:373.50px;top:369.32px;width:600px;height:8.96px;line-height:8.96px;font-size:5.6px;color:#3a4566;font-weight:normal;text-align:left;-webkit-text-stroke:0.18px #3a4566;">Mac Donald</div>
<svg class="r" style="left:373.8px;top:379.2px;" width="4.5" height="5.6" viewBox="0 0 4.5 5.6"><path d="M2.25 5.4 Q0.3 3 0.3 2 A1.95 1.95 0 0 1 4.2 2 Q4.2 3 2.25 5.4 Z" fill="none" stroke="#8b9ad6" stroke-width="0.75"/><circle cx="2.25" cy="2" r="0.6" fill="#8b9ad6"/></svg>
<div class="t" style="left:381.70px;top:377.72px;width:600px;height:8.56px;line-height:8.56px;font-size:5.35px;color:#aab2cc;font-weight:normal;text-align:left;">Seattle, Washington</div>
<svg class="r" style="left:434px;top:379.8px;" width="6.4" height="4.6" viewBox="0 0 6.4 4.6"><rect x="0.4" y="0.4" width="5.6" height="3.8" fill="none" stroke="#9aa3c4" stroke-width="0.7"/><path d="M0.4 0.6 L3.2 2.6 L6 0.6" stroke="#9aa3c4" stroke-width="0.6" fill="none"/></svg>
<div class="t" style="left:443.50px;top:377.76px;width:600px;height:8.48px;line-height:8.48px;font-size:5.3px;color:#aab2cc;font-weight:normal;text-align:left;">Ernest@Website.com</div>
<svg class="r" style="left:532.5px;top:374.1px;" width="7.5" height="7" viewBox="0 0 7.5 7"><path d="M1.2 5.8 L1.5 4.6 L5.3 1 L6.3 2 L2.5 5.6 Z" fill="#5d9df2"/></svg>
<svg class="r" style="left:545.6px;top:374.20000000000005px;" width="5.6" height="7" viewBox="0 0 5.6 7"><path d="M0.6 1.3 H5 M2.1 0.4 H3.5 M1.1 1.5 L1.3 5.8 H4.3 L4.5 1.5" stroke="#f2728c" stroke-width="0.8" fill="none"/><path d="M2.3 2.6 V4.8 M3.3 2.6 V4.8" stroke="#f2728c" stroke-width="0.45"/></svg>
<div class="r" style="left:351.50px;top:392.60px;width:200.00px;height:0.50px;background:#f3f5f9;border-radius:0px;"></div>
<div class="t" style="left:373.50px;top:398.82px;width:600px;height:8.96px;line-height:8.96px;font-size:5.6px;color:#3a4566;font-weight:normal;text-align:left;-webkit-text-stroke:0.18px #3a4566;">Life Good</div>
<svg class="r" style="left:373.8px;top:408.9px;" width="4.5" height="5.6" viewBox="0 0 4.5 5.6"><path d="M2.25 5.4 Q0.3 3 0.3 2 A1.95 1.95 0 0 1 4.2 2 Q4.2 3 2.25 5.4 Z" fill="none" stroke="#8b9ad6" stroke-width="0.75"/><circle cx="2.25" cy="2" r="0.6" fill="#8b9ad6"/></svg>
<div class="t" style="left:381.70px;top:407.42px;width:600px;height:8.56px;line-height:8.56px;font-size:5.35px;color:#aab2cc;font-weight:normal;text-align:left;">Seattle, Washington</div>
<svg class="r" style="left:434px;top:409.5px;" width="6.4" height="4.6" viewBox="0 0 6.4 4.6"><rect x="0.4" y="0.4" width="5.6" height="3.8" fill="none" stroke="#9aa3c4" stroke-width="0.7"/><path d="M0.4 0.6 L3.2 2.6 L6 0.6" stroke="#9aa3c4" stroke-width="0.6" fill="none"/></svg>
<div class="t" style="left:443.50px;top:407.46px;width:600px;height:8.48px;line-height:8.48px;font-size:5.3px;color:#aab2cc;font-weight:normal;text-align:left;">Ernest@Website.com</div>
<svg class="r" style="left:532.5px;top:404.0px;" width="7.5" height="7" viewBox="0 0 7.5 7"><path d="M1.2 5.8 L1.5 4.6 L5.3 1 L6.3 2 L2.5 5.6 Z" fill="#5d9df2"/></svg>
<svg class="r" style="left:545.6px;top:404.1px;" width="5.6" height="7" viewBox="0 0 5.6 7"><path d="M0.6 1.3 H5 M2.1 0.4 H3.5 M1.1 1.5 L1.3 5.8 H4.3 L4.5 1.5" stroke="#f2728c" stroke-width="0.8" fill="none"/><path d="M2.3 2.6 V4.8 M3.3 2.6 V4.8" stroke="#f2728c" stroke-width="0.45"/></svg>
<svg class="r" style="left:351.75px;top:340.3px;" width="15.5" height="15.5" viewBox="0 0 15.5 15.5"><circle cx="7.75" cy="7.75" r="7.6" fill="#12784c"/><path d="M7.75 1.6 L8.5 3.3 L10.2 3.4 L8.9 4.5 L9.3 6.1 L7.75 5.2 L6.2 6.1 L6.6 4.5 L5.3 3.4 L7 3.3 Z" fill="#ffffff"/><ellipse cx="7.75" cy="8.6" rx="2.2" ry="2.6" fill="#ffffff"/><ellipse cx="7.75" cy="8.9" rx="1.2" ry="1.5" fill="#12784c"/><path d="M3 6.2 Q4.6 8.6 4.2 13 M12.5 6.2 Q10.9 8.6 11.3 13 M2.2 9 Q3.6 10.4 3.4 12.4 M13.3 9 Q11.9 10.4 12.1 12.4" stroke="#ffffff" stroke-width="1" fill="none"/><path d="M5.8 11.4 Q7.75 13.4 9.7 11.4" stroke="#ffffff" stroke-width="0.9" fill="none"/></svg>
<svg class="r" style="left:351.5px;top:370.5px;" width="16" height="14" viewBox="0 0 16 14"><path d="M1.5 13.2 Q1.7 1.2 4.6 1.2 Q7.3 1.2 8 10.5 Q8.7 1.2 11.4 1.2 Q14.3 1.2 14.5 13.2" fill="none" stroke="#f5b700" stroke-width="1.6"/></svg>
<svg class="r" style="left:351.75px;top:399.7px;" width="15.8" height="15.8" viewBox="0 0 15.8 15.8"><circle cx="7.9" cy="7.9" r="7.7" fill="#c8164f"/><circle cx="7.9" cy="7.9" r="6.2" fill="none" stroke="#ffffff" stroke-width="0.65"/><path d="M6.3 4.6 V9.8 H8.2" stroke="#ffffff" stroke-width="0.95" fill="none"/><path d="M9.2 8 H11.5 A3.6 3.6 0 0 1 7.9 11.5" stroke="#ffffff" stroke-width="0.85" fill="none"/><circle cx="5.2" cy="5" r="0.65" fill="#ffffff"/></svg>
<div class="r" style="left:570.50px;top:275.00px;width:217.80px;height:149.50px;background:#ffffff;border-radius:2px;box-shadow:0 0 0.6px #e6eaf2;"></div>
<div class="t" style="left:579.20px;top:282.70px;width:600px;height:9.60px;line-height:9.60px;font-size:6.0px;color:#3d4766;font-weight:normal;text-align:left;-webkit-text-stroke:0.18px #3d4766;">Monthly Trends</div>
<div class="r" style="left:571.00px;top:296.30px;width:216.80px;height:0.50px;background:#f2f4f8;border-radius:0px;"></div>
<svg class="r" style="left:0;top:0" width="800" height="600" viewBox="0 0 800 600"><path d="M647.69 319.47 A35.2 35.2 0 1 1 592.30 348.30" stroke="#2f72f2" stroke-width="7.2" fill="none"/><path d="M592.30 348.30 A35.2 35.2 0 0 1 627.50 313.10" stroke="#5cb8fa" stroke-width="7.2" fill="none"/><path d="M627.50 313.10 A35.2 35.2 0 0 1 647.69 319.47" stroke="#f8abc1" stroke-width="7.2" fill="none"/><path d="M685 321.8 L690 324.4 L685 327 Z" fill="#1e4cf0"/><path d="M685 332.5 L690 335.1 L685 337.7 Z" fill="#1a90ee"/><path d="M685 343.8 L690 346.4 L685 349 Z" fill="#f7a8c0"/></svg>
<div class="t" style="left:693.30px;top:320.58px;width:600px;height:8.64px;line-height:8.64px;font-size:5.4px;color:#6f7893;font-weight:normal;text-align:left;">Sent</div>
<div class="t" style="left:693.30px;top:331.28px;width:600px;height:8.64px;line-height:8.64px;font-size:5.4px;color:#6f7893;font-weight:normal;text-align:left;">Opened</div>
<div class="t" style="left:693.30px;top:342.58px;width:600px;height:8.64px;line-height:8.64px;font-size:5.4px;color:#6f7893;font-weight:normal;text-align:left;">Not Opened</div>
<div class="r" style="left:685.00px;top:357.30px;width:51.00px;height:14.30px;background:#ffffff;border:0.8px solid #7f93f5;box-sizing:border-box;border-radius:7.2px;"></div>
<div class="t" style="left:689.30px;top:360.62px;width:600px;height:7.76px;line-height:7.76px;font-size:4.85px;color:#6b79ee;font-weight:normal;text-align:left;">View Details</div>
<div class="r" style="left:723.10px;top:359.30px;width:10.40px;height:10.40px;background:#1c5cf5;border-radius:5.2px;"></div>
<svg class="r" style="left:725.8px;top:362px;" width="5" height="5" viewBox="0 0 5 5"><path d="M2.5 0.9 V4.1 M0.9 2.5 H4.1" stroke="#ffffff" stroke-width="0.9"/></svg>
<div class="r" style="left:579.60px;top:396.00px;width:200.80px;height:19.25px;background:#e9effd;border-radius:1px;"></div>
<svg class="r" style="left:644px;top:402.3px;" width="6" height="6.4" viewBox="0 0 6 6.4"><rect x="0.5" y="1.2" width="5" height="4.8" rx="0.6" fill="none" stroke="#4a65ef" stroke-width="0.8"/><path d="M0.5 2.8 H5.5 M1.8 0.3 V1.6 M4.2 0.3 V1.6" stroke="#4a65ef" stroke-width="0.7"/></svg>
<div class="t" style="left:653.30px;top:401.60px;width:600px;height:8.00px;line-height:8.00px;font-size:5.0px;color:#4a65ef;font-weight:normal;text-align:left;">01 Jan 2020 to 31 Jun 2020</div>
<div class="r" style="left:115.50px;top:436.00px;width:217.00px;height:180.00px;background:#ffffff;border-radius:2px;box-shadow:0 0 0.6px #e6eaf2;"></div>
<div class="t" style="left:124.20px;top:443.90px;width:600px;height:9.60px;line-height:9.60px;font-size:6.0px;color:#3d4766;font-weight:normal;text-align:left;-webkit-text-stroke:0.18px #3d4766;">Activity</div>
<div class="r" style="left:116.00px;top:458.20px;width:216.00px;height:0.50px;background:#f2f4f8;border-radius:0px;"></div>
<div class="r" style="left:304.00px;top:441.80px;width:20.50px;height:12.40px;background:#ffffff;border:0.6px solid #f1f3f8;box-sizing:border-box;border-radius:1.5px;"></div>
<div class="t" style="left:308.50px;top:444.48px;width:600px;height:7.04px;line-height:7.04px;font-size:4.4px;color:#7e88aa;font-weight:normal;text-align:left;">All</div>
<svg class="r" style="left:316.8px;top:446.6px;" width="4" height="3" viewBox="0 0 4 3"><path d="M0.4 0.5 L2 2.2 L3.6 0.5" stroke="#8a95b8" stroke-width="0.6" fill="none"/></svg>
<div class="r" style="left:133.20px;top:488.00px;width:0.50px;height:112.00px;background:#f7f8fb;border-radius:0px;"></div>
<div class="t" style="left:148.80px;top:470.15px;width:600px;height:8.80px;line-height:8.80px;font-size:5.5px;color:#b1b8d0;font-weight:normal;text-align:left;"><span style="color:#3e4868">Donald</span> updated the status of <span style="color:#3e4868">Refund #1234</span> to</div>
<div class="t" style="left:148.80px;top:478.40px;width:600px;height:8.80px;line-height:8.80px;font-size:5.5px;color:#b1b8d0;font-weight:normal;text-align:left;">awaiting customer response</div>
<div class="t" style="left:-275.50px;top:474.88px;width:600px;height:7.84px;line-height:7.84px;font-size:4.9px;color:#a9b0c8;font-weight:normal;text-align:right;">10 Min ago</div>
<div class="t" style="left:148.80px;top:501.65px;width:600px;height:8.80px;line-height:8.80px;font-size:5.5px;color:#b1b8d0;font-weight:normal;text-align:left;"><span style="color:#3e4868">Lucy Peterson</span> was added to the group, group name is</div>
<div class="t" style="left:148.80px;top:509.65px;width:600px;height:8.80px;line-height:8.80px;font-size:5.5px;color:#b1b8d0;font-weight:normal;text-align:left;"><span style="color:#3e4868">Overtake</span></div>
<div class="t" style="left:-275.50px;top:506.13px;width:600px;height:7.84px;line-height:7.84px;font-size:4.9px;color:#a9b0c8;font-weight:normal;text-align:right;">50 Min ago</div>
<div class="t" style="left:148.80px;top:532.65px;width:600px;height:8.80px;line-height:8.80px;font-size:5.5px;color:#b1b8d0;font-weight:normal;text-align:left;"><span style="color:#3e4868">Joseph Rust</span> opened new showcase <span style="color:#3e4868">Mannat #112233</span></div>
<div class="t" style="left:148.80px;top:540.90px;width:600px;height:8.80px;line-height:8.80px;font-size:5.5px;color:#b1b8d0;font-weight:normal;text-align:left;">with theme market</div>
<div class="t" style="left:-275.50px;top:537.63px;width:600px;height:7.84px;line-height:7.84px;font-size:4.9px;color:#a9b0c8;font-weight:normal;text-align:right;">10 hours ago</div>
<div class="t" style="left:148.80px;top:563.90px;width:600px;height:8.80px;line-height:8.80px;font-size:5.5px;color:#b1b8d0;font-weight:normal;text-align:left;"><span style="color:#3e4868">Donald</span> updated the status of <span style="color:#3e4868">Refund #1234</span> to</div>
<div class="t" style="left:148.80px;top:572.15px;width:600px;height:8.80px;line-height:8.80px;font-size:5.5px;color:#b1b8d0;font-weight:normal;text-align:left;">awaiting customer response</div>
<div class="t" style="left:-275.50px;top:568.63px;width:600px;height:7.84px;line-height:7.84px;font-size:4.9px;color:#a9b0c8;font-weight:normal;text-align:right;">Yesterday</div>
<div class="t" style="left:148.80px;top:595.15px;width:600px;height:8.80px;line-height:8.80px;font-size:5.5px;color:#b1b8d0;font-weight:normal;text-align:left;"><span style="color:#3e4868">Lucy Peterson</span> was added to the group, group name is</div>
<div class="t" style="left:148.80px;top:603.40px;width:600px;height:8.80px;line-height:8.80px;font-size:5.5px;color:#b1b8d0;font-weight:normal;text-align:left;"><span style="color:#3e4868">Overtake</span></div>
<div class="t" style="left:-275.50px;top:599.88px;width:600px;height:7.84px;line-height:7.84px;font-size:4.9px;color:#a9b0c8;font-weight:normal;text-align:right;">Just now</div>
<div class="r" style="left:124.50px;top:470.00px;width:18.00px;height:18.00px;background:radial-gradient(circle, #e9eefd 0px, #edf1fe 5.5px, rgba(240,243,254,0) 8.5px);border-radius:0px;"></div>
<svg class="r" style="left:129.3px;top:474.6px;" width="9" height="9" viewBox="0 0 9 9"><circle cx="3.6" cy="2.6" r="1.9" fill="none" stroke="#3d63f2" stroke-width="0.8"/><path d="M0.6 7.8 Q0.8 5 3.6 5 Q5 5 5.6 5.6" stroke="#3d63f2" stroke-width="0.8" fill="none"/><rect x="5" y="5.4" width="3.4" height="2.8" rx="0.4" fill="none" stroke="#3d63f2" stroke-width="0.8"/></svg>
<div class="r" style="left:124.50px;top:500.50px;width:18.00px;height:18.00px;background:radial-gradient(circle, #e9eefd 0px, #edf1fe 5.5px, rgba(240,243,254,0) 8.5px);border-radius:0px;"></div>
<svg class="r" style="left:129.2px;top:505.2px;" width="8.6" height="8.6" viewBox="0 0 8.6 8.6"><circle cx="4.3" cy="4.8" r="3" fill="none" stroke="#3d63f2" stroke-width="0.85"/><path d="M1.2 1.2 L7.4 7.8 M2.6 0.6 H6" stroke="#3d63f2" stroke-width="0.8" fill="none"/></svg>
<svg class="r" style="left:124.3px;top:533.6px;" width="15.4" height="15.4" viewBox="0 0 15.4 15.4"><defs><clipPath id="av3"><circle cx="7.7" cy="7.7" r="7.5"/></clipPath></defs><g clip-path="url(#av3)"><rect width="15.4" height="15.4" fill="#efe6e2"/><circle cx="7.5" cy="6" r="5" fill="#8a4f33"/><ellipse cx="7.6" cy="6.8" rx="3.2" ry="3.8" fill="#f0c6ae"/><ellipse cx="7.7" cy="15.4" rx="7.5" ry="4.4" fill="#e0394b"/></g></svg>
<div class="r" style="left:124.50px;top:563.00px;width:18.00px;height:18.00px;background:radial-gradient(circle, #e9eefd 0px, #edf1fe 5.5px, rgba(240,243,254,0) 8.5px);border-radius:0px;"></div>
<svg class="r" style="left:129.5px;top:568px;" width="8" height="8" viewBox="0 0 8 8"><circle cx="4" cy="4" r="3.2" fill="none" stroke="#3d63f2" stroke-width="0.9"/><path d="M4 2.2 V4 L5.3 5.2" stroke="#3d63f2" stroke-width="0.8" fill="none"/></svg>
<div class="r" style="left:124.50px;top:590.00px;width:18.00px;height:18.00px;background:radial-gradient(circle, #e9eefd 0px, #edf1fe 5.5px, rgba(240,243,254,0) 8.5px);border-radius:0px;"></div>
<div class="r" style="left:344.00px;top:436.00px;width:444.50px;height:180.00px;background:#ffffff;border-radius:2px;box-shadow:0 0 0.6px #e6eaf2;"></div>
<div class="t" style="left:352.70px;top:443.90px;width:600px;height:9.60px;line-height:9.60px;font-size:6.0px;color:#3d4766;font-weight:normal;text-align:left;-webkit-text-stroke:0.18px #3d4766;">Leads Report</div>
<div class="r" style="left:344.50px;top:459.40px;width:443.50px;height:0.50px;background:#f2f4f8;border-radius:0px;"></div>
<div class="r" style="left:743.00px;top:441.90px;width:36.00px;height:12.40px;background:#ffffff;border:0.6px solid #f1f3f8;box-sizing:border-box;border-radius:1.5px;"></div>
<div class="t" style="left:746.50px;top:444.42px;width:600px;height:7.36px;line-height:7.36px;font-size:4.6px;color:#7d6fd0;font-weight:normal;text-align:left;">This Month</div>
<svg class="r" style="left:772.3px;top:446.8px;" width="4" height="3" viewBox="0 0 4 3"><path d="M0.4 0.5 L2 2.2 L3.6 0.5" stroke="#8a95b8" stroke-width="0.6" fill="none"/></svg>
<div class="r" style="left:352.00px;top:467.50px;width:427.70px;height:19.00px;background:#eef2f9;border-radius:0px;"></div>
<div class="t" style="left:356.80px;top:473.36px;width:600px;height:8.48px;line-height:8.48px;font-size:5.3px;color:#3d4766;font-weight:normal;text-align:left;-webkit-text-stroke:0.15px #3d4766;">Lead</div>
<div class="t" style="left:460.70px;top:473.36px;width:600px;height:8.48px;line-height:8.48px;font-size:5.3px;color:#3d4766;font-weight:normal;text-align:left;-webkit-text-stroke:0.15px #3d4766;">Email</div>
<div class="t" style="left:536.70px;top:473.36px;width:600px;height:8.48px;line-height:8.48px;font-size:5.3px;color:#3d4766;font-weight:normal;text-align:left;-webkit-text-stroke:0.15px #3d4766;">Phone No</div>
<div class="t" style="left:600.40px;top:473.36px;width:600px;height:8.48px;line-height:8.48px;font-size:5.3px;color:#3d4766;font-weight:normal;text-align:left;-webkit-text-stroke:0.15px #3d4766;">Company</div>
<div class="t" style="left:680.40px;top:473.36px;width:600px;height:8.48px;line-height:8.48px;font-size:5.3px;color:#3d4766;font-weight:normal;text-align:left;-webkit-text-stroke:0.15px #3d4766;">Status</div>
<div class="t" style="left:738.20px;top:473.36px;width:600px;height:8.48px;line-height:8.48px;font-size:5.3px;color:#3d4766;font-weight:normal;text-align:left;-webkit-text-stroke:0.15px #3d4766;">Action</div>
<svg class="r" style="left:357.3px;top:491.9px;" width="14.6" height="14.6" viewBox="0 0 14.6 14.6"><defs><clipPath id="ra0"><circle cx="7.3" cy="7.3" r="7.2"/></clipPath></defs><g clip-path="url(#ra0)"><rect width="14.6" height="14.6" fill="#e4e1df"/><ellipse cx="7.4" cy="6.4" rx="3.6" ry="4.4" fill="#d8a68c"/><path d="M3.9 7.6 Q4.2 11.6 7.4 11.8 Q10.6 11.6 10.9 7.6 Q9.6 9 7.4 9 Q5.2 9 3.9 7.6 Z" fill="#3b2c26"/><path d="M1.5 14.6 Q2.5 11.2 7.4 11.4 Q12.3 11.2 13.3 14.6 Z" fill="#1e2736"/></g></svg>
<div class="t" style="left:375.50px;top:495.00px;width:600px;height:8.40px;line-height:8.40px;font-size:5.25px;color:#5f6987;font-weight:normal;text-align:left;">Donald Gardner</div>
<div class="t" style="left:460.70px;top:494.92px;width:600px;height:8.56px;line-height:8.56px;font-size:5.35px;color:#5f6987;font-weight:normal;text-align:left;">xys@gmail.com</div>
<div class="t" style="left:536.70px;top:494.92px;width:600px;height:8.56px;line-height:8.56px;font-size:5.35px;color:#5f6987;font-weight:normal;text-align:left;">+123456789</div>
<div class="t" style="left:600.40px;top:494.92px;width:600px;height:8.56px;line-height:8.56px;font-size:5.35px;color:#5f6987;font-weight:normal;text-align:left;">Starbucks coffee</div>
<div class="r" style="left:680.00px;top:495.40px;width:26.00px;height:7.60px;background:#eef1f7;border-radius:1px;"></div>
<div class="t" style="left:393.00px;top:495.72px;width:600px;height:7.36px;line-height:7.36px;font-size:4.6px;color:#3e4766;font-weight:normal;text-align:center;">New Lead</div>
<svg class="r" style="left:738.3px;top:495.7px;" width="7.5" height="7" viewBox="0 0 7.5 7"><path d="M1.2 5.8 L1.5 4.6 L5.3 1 L6.3 2 L2.5 5.6 Z" fill="#5d9df2"/></svg>
<svg class="r" style="left:751.5px;top:495.8px;" width="5.6" height="7" viewBox="0 0 5.6 7"><path d="M0.6 1.3 H5 M2.1 0.4 H3.5 M1.1 1.5 L1.3 5.8 H4.3 L4.5 1.5" stroke="#f2728c" stroke-width="0.8" fill="none"/><path d="M2.3 2.6 V4.8 M3.3 2.6 V4.8" stroke="#f2728c" stroke-width="0.45"/></svg>
<div class="r" style="left:352.00px;top:512.10px;width:427.70px;height:0.50px;background:#f3f5f9;border-radius:0px;"></div>
<svg class="r" style="left:357.3px;top:517.3px;" width="14.6" height="14.6" viewBox="0 0 14.6 14.6"><defs><clipPath id="ra1"><circle cx="7.3" cy="7.3" r="7.2"/></clipPath></defs><g clip-path="url(#ra1)"><rect width="14.6" height="14.6" fill="#f3f2f1"/><ellipse cx="7.3" cy="7.4" rx="3" ry="3.6" fill="#cf9977"/><path d="M3.8 6.4 Q3.6 2.4 7.3 2.3 Q11 2.4 10.8 6.2 Q9.6 4.6 7.3 4.8 Q5 4.6 3.8 6.4 Z" fill="#151213"/><rect x="4.6" y="6.3" width="5.4" height="1.3" fill="#2a2223"/><path d="M3.5 14.6 Q4 11.4 7.3 11.4 Q10.6 11.4 11.1 14.6 Z" fill="#9b6fae"/></g></svg>
<div class="t" style="left:375.50px;top:520.40px;width:600px;height:8.40px;line-height:8.40px;font-size:5.25px;color:#5f6987;font-weight:normal;text-align:left;">Matt Rosales</div>
<div class="t" style="left:460.70px;top:520.32px;width:600px;height:8.56px;line-height:8.56px;font-size:5.35px;color:#5f6987;font-weight:normal;text-align:left;">xys@gmail.com</div>
<div class="t" style="left:536.70px;top:520.32px;width:600px;height:8.56px;line-height:8.56px;font-size:5.35px;color:#5f6987;font-weight:normal;text-align:left;">+123456789</div>
<div class="t" style="left:600.40px;top:520.32px;width:600px;height:8.56px;line-height:8.56px;font-size:5.35px;color:#5f6987;font-weight:normal;text-align:left;">Mac Donald</div>
<div class="r" style="left:680.00px;top:520.80px;width:26.00px;height:7.60px;background:#eef1f7;border-radius:1px;"></div>
<div class="t" style="left:393.00px;top:521.12px;width:600px;height:7.36px;line-height:7.36px;font-size:4.6px;color:#3e4766;font-weight:normal;text-align:center;">New Lead</div>
<svg class="r" style="left:738.3px;top:521.1px;" width="7.5" height="7" viewBox="0 0 7.5 7"><path d="M1.2 5.8 L1.5 4.6 L5.3 1 L6.3 2 L2.5 5.6 Z" fill="#5d9df2"/></svg>
<svg class="r" style="left:751.5px;top:521.2px;" width="5.6" height="7" viewBox="0 0 5.6 7"><path d="M0.6 1.3 H5 M2.1 0.4 H3.5 M1.1 1.5 L1.3 5.8 H4.3 L4.5 1.5" stroke="#f2728c" stroke-width="0.8" fill="none"/><path d="M2.3 2.6 V4.8 M3.3 2.6 V4.8" stroke="#f2728c" stroke-width="0.45"/></svg>
<div class="r" style="left:352.00px;top:537.50px;width:427.70px;height:0.50px;background:#f3f5f9;border-radius:0px;"></div>
<svg class="r" style="left:357.3px;top:542.7px;" width="14.6" height="14.6" viewBox="0 0 14.6 14.6"><defs><clipPath id="ra2"><circle cx="7.3" cy="7.3" r="7.2"/></clipPath></defs><g clip-path="url(#ra2)"><rect width="14.6" height="14.6" fill="#eeeae8"/><ellipse cx="7.3" cy="7.2" rx="3.1" ry="3.8" fill="#d49a7c"/><path d="M4 6 Q3.9 2.6 7.3 2.5 Q10.7 2.6 10.6 6 Q9.6 4.3 7.3 4.4 Q5 4.3 4 6 Z" fill="#3a261d"/><path d="M5.4 9.2 Q7.3 10.4 9.2 9.2" stroke="#ffffff" stroke-width="0.6" fill="none"/><path d="M2.8 14.6 Q3.6 11.4 7.3 11.4 Q11 11.4 11.8 14.6 Z" fill="#efe9e6"/></g></svg>
<div class="t" style="left:375.50px;top:545.80px;width:600px;height:8.40px;line-height:8.40px;font-size:5.25px;color:#5f6987;font-weight:normal;text-align:left;">Michael Hill</div>
<div class="t" style="left:460.70px;top:545.72px;width:600px;height:8.56px;line-height:8.56px;font-size:5.35px;color:#5f6987;font-weight:normal;text-align:left;">xys@gmail.com</div>
<div class="t" style="left:536.70px;top:545.72px;width:600px;height:8.56px;line-height:8.56px;font-size:5.35px;color:#5f6987;font-weight:normal;text-align:left;">+123456789</div>
<div class="t" style="left:600.40px;top:545.72px;width:600px;height:8.56px;line-height:8.56px;font-size:5.35px;color:#5f6987;font-weight:normal;text-align:left;">Life Good</div>
<div class="r" style="left:680.00px;top:546.20px;width:15.30px;height:7.60px;background:#fde4ea;border-radius:1px;"></div>
<div class="t" style="left:387.60px;top:546.52px;width:600px;height:7.36px;line-height:7.36px;font-size:4.6px;color:#f0506e;font-weight:normal;text-align:center;">Lost</div>
<svg class="r" style="left:738.3px;top:546.5px;" width="7.5" height="7" viewBox="0 0 7.5 7"><path d="M1.2 5.8 L1.5 4.6 L5.3 1 L6.3 2 L2.5 5.6 Z" fill="#5d9df2"/></svg>
<svg class="r" style="left:751.5px;top:546.6px;" width="5.6" height="7" viewBox="0 0 5.6 7"><path d="M0.6 1.3 H5 M2.1 0.4 H3.5 M1.1 1.5 L1.3 5.8 H4.3 L4.5 1.5" stroke="#f2728c" stroke-width="0.8" fill="none"/><path d="M2.3 2.6 V4.8 M3.3 2.6 V4.8" stroke="#f2728c" stroke-width="0.45"/></svg>
<div class="r" style="left:352.00px;top:562.90px;width:427.70px;height:0.50px;background:#f3f5f9;border-radius:0px;"></div>
<svg class="r" style="left:357.3px;top:568.1px;" width="14.6" height="14.6" viewBox="0 0 14.6 14.6"><defs><clipPath id="ra3"><circle cx="7.3" cy="7.3" r="7.2"/></clipPath></defs><g clip-path="url(#ra3)"><rect width="14.6" height="14.6" fill="#f4f2f1"/><path d="M3 12 Q2.4 3 7.3 2.6 Q12.2 3 11.6 12 Q10 13 9.6 11 L9.6 7 L5 7 L5 11 Q4.6 13 3 12 Z" fill="#1b1415"/><ellipse cx="7.3" cy="7.8" rx="2.7" ry="3.5" fill="#efc4ae"/><path d="M5.9 9.6 Q7.3 10.6 8.7 9.6" stroke="#ffffff" stroke-width="0.55" fill="none"/></g></svg>
<div class="t" style="left:375.50px;top:571.20px;width:600px;height:8.40px;line-height:8.40px;font-size:5.25px;color:#5f6987;font-weight:normal;text-align:left;">Nancy Flanary</div>
<div class="t" style="left:460.70px;top:571.12px;width:600px;height:8.56px;line-height:8.56px;font-size:5.35px;color:#5f6987;font-weight:normal;text-align:left;">xys@gmail.com</div>
<div class="t" style="left:536.70px;top:571.12px;width:600px;height:8.56px;line-height:8.56px;font-size:5.35px;color:#5f6987;font-weight:normal;text-align:left;">+123456789</div>
<div class="t" style="left:600.40px;top:571.12px;width:600px;height:8.56px;line-height:8.56px;font-size:5.35px;color:#5f6987;font-weight:normal;text-align:left;">Flipcart</div>
<div class="r" style="left:680.00px;top:571.60px;width:26.00px;height:7.60px;background:#eef1f7;border-radius:1px;"></div>
<div class="t" style="left:393.00px;top:571.92px;width:600px;height:7.36px;line-height:7.36px;font-size:4.6px;color:#3e4766;font-weight:normal;text-align:center;">New Lead</div>
<svg class="r" style="left:738.3px;top:571.9px;" width="7.5" height="7" viewBox="0 0 7.5 7"><path d="M1.2 5.8 L1.5 4.6 L5.3 1 L6.3 2 L2.5 5.6 Z" fill="#5d9df2"/></svg>
<svg class="r" style="left:751.5px;top:572.0px;" width="5.6" height="7" viewBox="0 0 5.6 7"><path d="M0.6 1.3 H5 M2.1 0.4 H3.5 M1.1 1.5 L1.3 5.8 H4.3 L4.5 1.5" stroke="#f2728c" stroke-width="0.8" fill="none"/><path d="M2.3 2.6 V4.8 M3.3 2.6 V4.8" stroke="#f2728c" stroke-width="0.45"/></svg>
<div class="r" style="left:352.00px;top:588.30px;width:427.70px;height:0.50px;background:#f3f5f9;border-radius:0px;"></div>
<svg class="r" style="left:357.3px;top:593.5px;" width="14.6" height="14.6" viewBox="0 0 14.6 14.6"><defs><clipPath id="ra4"><circle cx="7.3" cy="7.3" r="7.2"/></clipPath></defs><g clip-path="url(#ra4)"><rect width="14.6" height="14.6" fill="#efe7e3"/><circle cx="7.3" cy="6" r="4.4" fill="#7a4430"/><ellipse cx="7.3" cy="7.2" rx="3" ry="3.6" fill="#e9b89e"/><path d="M1.8 14.6 Q2.6 11.4 7.3 11.4 Q12 11.4 12.8 14.6 Z" fill="#d94a4a"/></g></svg>
<div class="t" style="left:375.50px;top:596.60px;width:600px;height:8.40px;line-height:8.40px;font-size:5.25px;color:#5f6987;font-weight:normal;text-align:left;">Joseph Rust</div>
<div class="t" style="left:460.70px;top:596.52px;width:600px;height:8.56px;line-height:8.56px;font-size:5.35px;color:#5f6987;font-weight:normal;text-align:left;">xys@gmail.com</div>
<div class="t" style="left:536.70px;top:596.52px;width:600px;height:8.56px;line-height:8.56px;font-size:5.35px;color:#5f6987;font-weight:normal;text-align:left;">+123456789</div>
<div class="t" style="left:600.40px;top:596.52px;width:600px;height:8.56px;line-height:8.56px;font-size:5.35px;color:#5f6987;font-weight:normal;text-align:left;">Paytm</div>
<div class="r" style="left:680.00px;top:597.00px;width:27.00px;height:7.60px;background:#eef1f7;border-radius:1px;"></div>
<div class="t" style="left:393.50px;top:597.32px;width:600px;height:7.36px;line-height:7.36px;font-size:4.6px;color:#3e4766;font-weight:normal;text-align:center;">Converted</div>
<svg class="r" style="left:738.3px;top:597.3px;" width="7.5" height="7" viewBox="0 0 7.5 7"><path d="M1.2 5.8 L1.5 4.6 L5.3 1 L6.3 2 L2.5 5.6 Z" fill="#5d9df2"/></svg>
<svg class="r" style="left:751.5px;top:597.4px;" width="5.6" height="7" viewBox="0 0 5.6 7"><path d="M0.6 1.3 H5 M2.1 0.4 H3.5 M1.1 1.5 L1.3 5.8 H4.3 L4.5 1.5" stroke="#f2728c" stroke-width="0.8" fill="none"/><path d="M2.3 2.6 V4.8 M3.3 2.6 V4.8" stroke="#f2728c" stroke-width="0.45"/></svg>
<div class="r" style="left:352.00px;top:613.70px;width:427.70px;height:0.50px;background:#f3f5f9;border-radius:0px;"></div>
</div></body></html>
